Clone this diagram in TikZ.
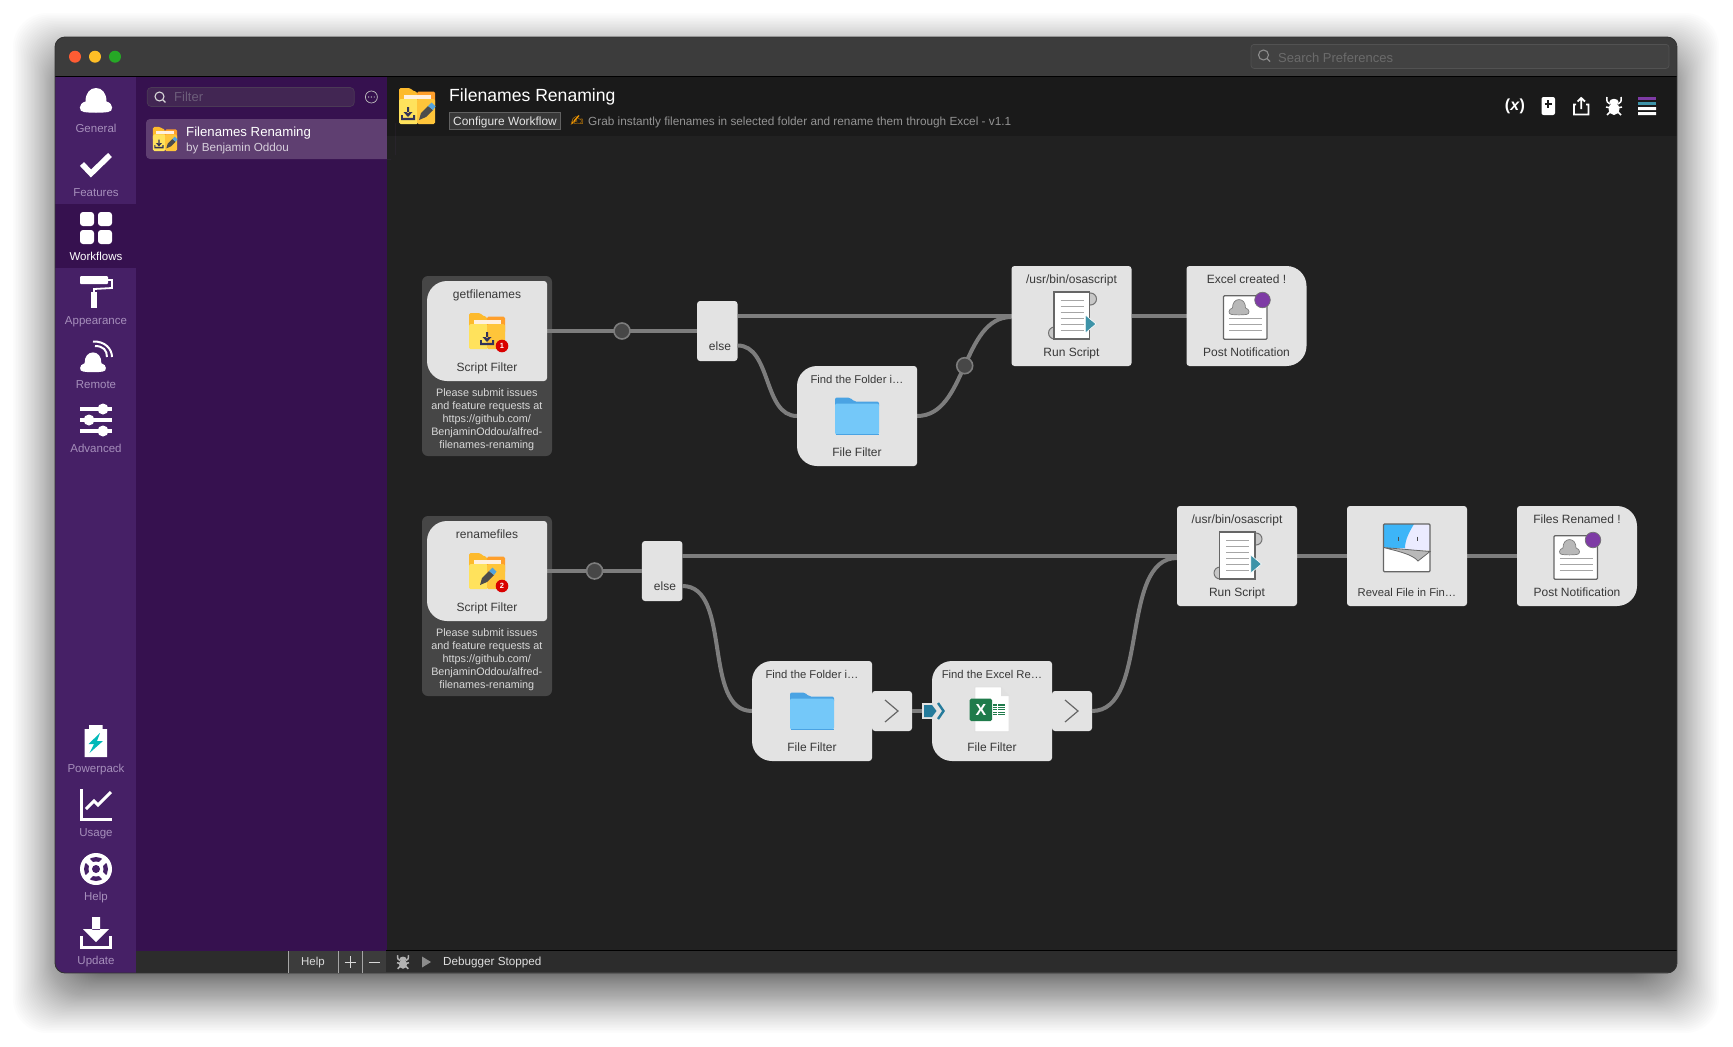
\documentclass[tikz,border=0pt]{standalone}
\usepackage{fontspec}
\setmainfont{Liberation Sans}
\newfontfamily\symbfont{DejaVu Sans}
\usetikzlibrary{positioning,calc}
\definecolor{canvasbg}{HTML}{212121}
\definecolor{titlebg}{HTML}{3C3C3C}
\definecolor{headbg}{HTML}{1A1A1A}
\definecolor{sidebg}{HTML}{462066}
\definecolor{listbg}{HTML}{36114F}
\definecolor{selbg}{HTML}{5F3F71}
\definecolor{sidetext}{HTML}{A68FBB}
\definecolor{cardgray}{HTML}{E3E3E3}
\definecolor{groupgray}{HTML}{464646}
\definecolor{wiregray}{HTML}{7D7D7D}
\definecolor{barbg}{HTML}{2C2C2C}
\definecolor{tealmark}{HTML}{3D93A8}
\definecolor{bluemark}{HTML}{257B9B}
\definecolor{purplemark}{HTML}{7E3BA5}
\definecolor{foldertab}{HTML}{FDBA2C}
\definecolor{folderback}{HTML}{FF9F2B}
\definecolor{folderleft}{HTML}{FFE25C}
\definecolor{folderright}{HTML}{FFC53A}
\definecolor{skyfront}{HTML}{74C8F9}
\definecolor{skyback}{HTML}{4AA3E3}
\definecolor{finderblue}{HTML}{3DB5F8}
\definecolor{excelgreen}{HTML}{1F7B4B}
\tikzset{
  px/.style={font=\fontsize{#1}{#1}\selectfont},
  card/.style={rectangle,minimum width=120pt,minimum height=100pt,inner sep=0pt,outer sep=0pt},
  cardtext/.style={px=12,text=black!78,inner sep=0pt,text height=8.6pt,text depth=2.6pt},
  groupbox/.style={rectangle,fill=groupgray,rounded corners=6pt,minimum width=130pt,minimum height=180pt,inner sep=0pt,outer sep=0pt},
  grouptext/.style={font=\fontsize{10.8}{13}\selectfont,text=black!15,align=center,inner sep=0pt},
  elsebox/.style={rectangle,fill=cardgray,rounded corners=3pt,minimum width=40.5pt,minimum height=60pt,inner sep=0pt,outer sep=0pt},
  chevbox/.style={rectangle,fill=cardgray,rounded corners=3pt,minimum width=40pt,minimum height=40pt,inner sep=0pt,outer sep=0pt},
  wire/.style={draw=wiregray,line width=4pt},
  junction/.style={circle,fill=black!72,draw=wiregray,line width=1.6pt,minimum size=16pt,inner sep=0pt},
  sidelabel/.style={px=11.5,text=sidetext,inner sep=0pt,text height=8.4pt,text depth=2.4pt},
  linetext/.style={inner sep=0pt,text height=8.6pt,text depth=2.6pt},
}
\newcommand{\cuttext}[1]{{\fontsize{11.3}{12}\selectfont #1}}
% card body: left radius, right radius
\newcommand{\cardback}[3]{
  \fill[cardgray,rounded corners=#2pt] ($(#1.north west)+(0pt,-40pt)$) -- (#1.north west) [rounded corners=#3pt] -- (#1.north east)
    -- (#1.south east) [rounded corners=#2pt] -- (#1.south west) -- cycle;
}
\newcommand{\cardlabels}[3]{
  \node (#1top) [cardtext] at ([yshift=-14.5pt]#1.north) {#2};
  \node (#1bottom) [cardtext] at ([yshift=12.5pt]#1.south) {#3};
}
\newcommand{\dlmark}[1]{
  \begin{scope}[shift={(#1,0)}]
    \fill[black!75!blue!60!gray] (-1,1) rectangle (1,7) (-4.5,6) -- (4.5,6) -- (0,11) -- cycle (-7,9) rectangle (-5.2,13) (-7,11.8) rectangle (7,14) (5.2,9) rectangle (7,13);
  \end{scope}
}
\newcommand{\penmark}[1]{
  \begin{scope}[shift={(#1,0)}]
    \fill[black!70] (-7,14) -- (-5,7) -- (2,0) -- (7,4) -- (0,11) -- cycle;
    \fill[cyan!70!blue!70] (2,0) -- (5.5,-3.5) -- (9.5,0.5) -- (7,4) -- cycle;
  \end{scope}
}
% folder with its marks
\newcommand{\foldericon}[3]{
  \begin{scope}[shift={#1},scale=#2]
    \fill[foldertab,rounded corners=1.5] (-18,2) -- (-18,-18) -- (-7,-18) -- (-3,-14.5) -- (0,-14.5) -- (0,2) -- cycle;
    \fill[folderback,rounded corners=1.5] (0,2) -- (0,-14.5) -- (18,-14.5) -- (18,2) -- cycle;
    \fill[orange!12] (-13.5,-11.5) rectangle (13.5,-7);
    \fill[folderleft,rounded corners=1.5] (-18,-7) -- (1,-7) -- (1,18) -- (-18,18) -- cycle;
    \fill[folderright,rounded corners=1.5] (0,-7) -- (18,-7) -- (18,18) -- (0,18) -- cycle;
    #3
  \end{scope}
}
\newcommand{\bluefolder}[1]{
  \begin{scope}[shift={#1}]
    \fill[skyback,rounded corners=2] (-22,-8) -- (-22,-18.5) -- (-7,-18.5) -- (-3,-14.5) -- (22,-14.5) -- (22,-8) -- cycle;
    \fill[skyfront,rounded corners=2] (-22,-12.5) rectangle (22,18.5);
    \draw[skyback,line width=.8pt] (-21.5,18.2) -- (21.5,18.2);
  \end{scope}
}
\newcommand{\scripticon}[1]{
  \begin{scope}[shift={#1}]
    \filldraw[fill=black!22,draw=black!55,line width=1pt] (19,-17) circle (6) (-17,17) circle (6);
    \filldraw[fill=white,draw=black!60,line width=1.2pt] (-17.5,-24) rectangle (18,23);
    \foreach \ly in {-15.3,-9.3,-3.3,2.7,8.7,14.7}
      \draw[black!35,line width=1.5pt] (-11,\ly) -- (12,\ly);
    \filldraw[fill=tealmark,draw=white,line width=.6pt] (13.9,-1) -- (24.5,8) -- (13.9,17) -- cycle;
  \end{scope}
}
\newcommand{\hatmark}{
  (-12,12) .. controls (-17.5,12) and (-18,3.5) .. (-10.5,1.5) .. controls (-10.5,-7) and (-6,-12) .. (0,-12)
    .. controls (6,-12) and (10.5,-7) .. (10.5,1.5) .. controls (18,3.5) and (17.5,12) .. (12,12) .. controls (6,13) and (-6,13) .. (-12,12) -- cycle
}
\newcommand{\notifyicon}[1]{
  \begin{scope}[shift={#1}]
    \filldraw[fill=white,draw=black!60,line width=1.2pt,rounded corners=1] (-23,-20.3) rectangle (20.5,23.3);
    \begin{scope}[shift={(-7.5,-9)},scale=.62]
      \filldraw[fill=black!28,draw=black!50,line width=.7pt] \hatmark;
    \end{scope}
    \foreach \ly in {2.7,8.7,14.7}
      \draw[black!35,line width=1.5pt] (-17.5,\ly) -- (15.5,\ly);
    \filldraw[fill=purplemark,draw=black!55,line width=.7pt] (16,-16) circle (7.8);
  \end{scope}
}
\newcommand{\lensmark}[3]{
  \draw[#2,line width=1.1pt] (#1) ++(-1.5,-1.5) circle (#3) ++(.7*#3,.7*#3) -- ++(.62*#3,.62*#3);
}
\newcommand{\bugmark}[3]{
  \begin{scope}[shift={#1},scale=#2]
    \fill[#3] (0,-4) ellipse (4.6 and 3.2) (0,3) ellipse (5.4 and 6);
    \draw[#3,line width=1.5pt] (-7,-9) .. controls (-8,-4) and (-6,-3) .. (-4,-2) (7,-9) .. controls (8,-4) and (6,-3) .. (4,-2)
      (-8,1) -- (-3,2) (8,1) -- (3,2) (-7,9) -- (-3,5) (7,9) -- (3,5);
  \end{scope}
}
\begin{document}
\begin{tikzpicture}[x=1pt,y=-1pt]
  \useasboundingbox (0,0) rectangle (1733,1047);
  \fill[white] (0,0) rectangle (1733,1047);
  % soft shadow under the window
  \foreach \i in {0,...,90}{
    \pgfmathsetmacro{\e}{-25+67*(\i/90)^2.2}
    \fill[black,opacity=.0125,rounded corners=34pt] ({55-1*\e},{55-1*\e}) rectangle ({1677+1*\e},{991+1*\e});
  }

  % window panels
  \begin{scope}
    \clip[rounded corners=10pt] (55,37) rectangle (1677,973);
    \fill[canvasbg] (55,37) rectangle (1677,973);
    \fill[titlebg] (55,37) rectangle (1677,76);
    \draw[black,line width=1pt] (55,76.5) -- (1677,76.5);
    \fill[headbg] (386.5,77) rectangle (1677,136);
    \fill[listbg] (136,77) rectangle (386.5,951);
    \fill[sidebg] (55,77) rectangle (136,973);
    \fill[listbg] (55,204) rectangle (136,268);
    \fill[barbg] (136,951) rectangle (1677,973);
    \draw[black,line width=1pt] (386,950.5) -- (1677,950.5);
    \fill[black!75] (386,972) rectangle (1677,973);
  \end{scope}
  \draw[black!80,line width=.8pt,rounded corners=10pt] (55,37) rectangle (1677,973);

  % title bar
  \fill[red!60!orange!80!white] (75,56.7) circle (6);
  \fill[orange!60!yellow!85!white] (95,56.7) circle (6);
  \fill[green!60!black!85!white] (115,56.7) circle (6);
  \node (searchbox) [rectangle,draw=black!68,fill=black!74,rounded corners=3pt,minimum width=418pt,minimum height=24pt,inner sep=0pt,line width=.7pt] at (1460,56.4) {};
  \lensmark{1265,56.5}{black!45}{5}
  \node (searchtext) [px=13,text=black!58,anchor=west,linetext] at (1278,59) {Search Preferences};

  % sidebar
  \begin{scope}[shift={(96,100)},scale=1]
    \fill[white] \hatmark;
  \end{scope}
  \draw[white,line width=5.6pt] (82,164) -- (91,173.5) -- (110,155);
  \foreach \ix/\iy in {80/212,98/212,80/230,98/230}
    \fill[white,rounded corners=3pt] (\ix,\iy) rectangle ++(14,14);
  \fill[white,rounded corners=1pt] (80,276) rectangle (108,284);
  \draw[white,line width=1.8pt] (108,280) -- (112,280) -- (112,288) -- (94,289) -- (94,293);
  \fill[white] (91,292) rectangle (97,308);
  \begin{scope}[shift={(93,362)},scale=.8]
    \fill[white] \hatmark;
  \end{scope}
  \draw[white,line width=2pt] (95,346) .. controls (103,346) and (107,350) .. (107,357) (93,341.5) .. controls (105,341) and (112,349) .. (112,357);
  \foreach \ay/\ax in {409/103,420/89,431/103}{
    \fill[white] (80,\ay-1.7) rectangle (112,\ay+1.7);
    \fill[white] (\ax,\ay) circle (5.5);
  }
  \fill[white] (89,725) rectangle (102.5,730) (84.6,729) rectangle (107,757);
  \fill[teal!55!cyan] (100,733) -- (88.5,744) -- (94,744) -- (89.5,753) -- (103,741) -- (97,741) -- cycle;
  \draw[white,line width=3pt] (81.5,789) -- (81.5,819.5) -- (112,819.5);
  \draw[white,line width=3pt] (86,809) -- (94,801) -- (98,805) -- (111,792);
  \fill[white] (96,869) circle (16);
  \fill[sidebg] (96,869) circle (12);
  \draw[white,line width=5.5pt] (86,859) -- (106,879) (86,879) -- (106,859);
  \fill[white] (96,869) circle (7.5);
  \fill[sidebg] (96,869) circle (4);
  \fill[white] (92,917) rectangle (100,930) (83,929) -- (109,929) -- (96,942) -- cycle;
  \draw[white,line width=3pt] (81.5,936) -- (81.5,947.5) -- (110.5,947.5) -- (110.5,936);
  \foreach \lname/\ltext/\ly in {general/General/129,features/Features/193,appearance/Appearance/321,remote/Remote/385,advanced/Advanced/449,powerpack/Powerpack/769,usage/Usage/833,helpside/Help/897,update/Update/961}
    \node (\lname) [sidelabel] at (96,\ly) {\ltext};
  \node (workflows) [sidelabel,text=white] at (96,257) {Workflows};

  % workflow list
  \node (filterbox) [rectangle,draw=black!45!listbg!80!white,fill=black!25!selbg!70!listbg,rounded corners=4pt,minimum width=207pt,minimum height=19pt,inner sep=0pt,line width=.7pt] at (250.7,97) {};
  \lensmark{161,98}{white!85!black}{4.5}
  \node (filtertext) [px=13,text=sidetext!65!black,anchor=west,linetext] at (174,98.5) {Filter};
  \node (filtermore) [circle,draw=white!75!black,minimum size=12pt,inner sep=0pt,line width=.7pt] at (371.4,97) {};
  \fill[white!75!black] (368.6,97) circle (.7) (371.4,97) circle (.7) (374.2,97) circle (.7);
  \fill[selbg,rounded corners=4pt] (146,119) rectangle (395,159);
  \fill[canvasbg] (386.5,136) rectangle (395,159);
  \fill[headbg] (386.5,119) rectangle (395,136);
  \foldericon{(165,139)}{.67}{\dlmark{-9}\penmark{9}}
  \node (listname) [px=13.2,text=white,anchor=west,linetext] at (186,133.5) {Filenames Renaming};
  \node (listauthor) [px=11.7,text=white!75!selbg,anchor=west,linetext] at (186,148.5) {by Benjamin Oddou};

  % header
  \foldericon{(417,106)}{1}{\dlmark{-9}\penmark{9}}
  \node (headtitle) [px=17.6,text=white,anchor=west,inner sep=0pt] at (449,96.5) {Filenames Renaming};
  \node (configbox) [rectangle,draw=black!62,fill=black!78,minimum width=111pt,minimum height=17.4pt,inner sep=0pt,line width=.7pt] at (505,121) {};
  \node (configtext) [px=11.9,text=white!90!black,linetext] at (505,122.5) {Configure Workflow};
  \node (headhand) [font=\symbfont\fontsize{16}{16}\selectfont,text=orange!75!yellow,inner sep=0pt] at (577,121) {✍};
  \node (headnote) [px=11.8,text=black!42,anchor=west,linetext] at (588,122.5) {Grab instantly filenames in selected folder and rename them through Excel - v1.1};
  \node (varsicon) [px=16,text=white,inner sep=0pt] at (1515,106) {\bfseries(\textit{x})};
  \fill[white,rounded corners=2pt] (1541.5,97) rectangle (1555,115);
  \draw[headbg,line width=1.6pt] (1544.5,104) -- (1552,104) (1548.2,100.2) -- (1548.2,107.8);
  \draw[white,line width=1.8pt] (1576,104.5) -- (1574,104.5) -- (1574,114.5) -- (1588.5,114.5) -- (1588.5,104.5) -- (1586,104.5) (1581.2,109) -- (1581.2,98.5) (1577.5,101.5) -- (1581.2,98) -- (1585,101.5);
  \bugmark{(1614,106)}{1}{white}
  \fill[purplemark] (1638,97) rectangle (1656,100);
  \fill[tealmark] (1638,102) rectangle (1656,105);
  \fill[white] (1638,107) rectangle (1656,110) (1638,112) rectangle (1656,115);

  % first row
  \node (getgroup) [groupbox] at (487,366) {};
  \node (getcard) [card] at (487,331) {};
  \node (else1) [elsebox] at (717.3,331) {};
  \node (find1) [card] at (857,416) {};
  \node (run1) [card] at (1071.5,316) {};
  \node (post1) [card,right=55pt of run1] {};
  \coordinate (else1top) at ([yshift=15pt]else1.east);
  \coordinate (else1low) at ([yshift=-14.5pt]else1.east);

  % second row
  \node (rengroup) [groupbox,below=60pt of getgroup] {};
  \node (rencard) [card,below=140pt of getcard] {};
  \node (else2) [elsebox] at (662.2,571) {};
  \node (run2) [card] at (1237,556) {};
  \node (reveal) [card,right=50pt of run2] {};
  \node (post2) [card,right=50pt of reveal] {};
  \node (findA) [card] at (812,711) {};
  \node (chevA) [chevbox,right=0pt of findA] {};
  \node (findB) [card,right=20pt of chevA] {};
  \node (chevB) [chevbox,right=0pt of findB] {};
  \coordinate (else2top) at ([yshift=15pt]else2.east);
  \coordinate (else2low) at ([yshift=-15pt]else2.east);
  \coordinate (run1in) at ([yshift=-1pt]run1.west);
  \coordinate (run2in) at ([yshift=-2pt]run2.west);

  % connectors
  \path[wire] (getcard.east) -- (else1.west);
  \path[wire] (else1top) -- (run1.west);
  \path[wire] (else1low) .. controls +(34,0) and +(-34,0) .. (find1.west);
  \path[wire] (find1.east) .. controls +(50,0) and +(-50,0) .. (run1in);
  \path[wire] (run1.east) -- (post1.west);
  \path[wire] (rencard.east) -- (else2.west);
  \path[wire] (else2top) -- (run2.west);
  \path[wire] (else2low) .. controls +(50,0) and +(-50,0) .. (findA.west);
  \path[wire] (chevA.east) -- (findB.west);
  \path[wire] (chevB.east) .. controls +(58,0) and +(-58,0) .. (run2in);
  \path[wire] (run2.east) -- (reveal.west);
  \path[wire] (reveal.east) -- (post2.west);
  \node (dot1) [junction] at (622,331) {};
  \node (dot2) [junction] at (964.7,365.7) {};
  \node (dot3) [junction] at (594.6,571) {};

  % card bodies
  \cardback{getcard}{20}{3}
  \cardback{find1}{20}{3}
  \cardback{run1}{3}{3}
  \cardback{post1}{3}{20}
  \cardback{rencard}{20}{3}
  \cardback{findA}{20}{3}
  \cardback{findB}{20}{3}
  \cardback{run2}{3}{3}
  \cardback{reveal}{3}{3}
  \cardback{post2}{3}{20}

  \cardlabels{getcard}{getfilenames}{Script Filter}
  \cardlabels{rencard}{renamefiles}{Script Filter}
  \cardlabels{find1}{\cuttext{Find the Folder i…}}{File Filter}
  \cardlabels{findA}{\cuttext{Find the Folder i…}}{File Filter}
  \cardlabels{findB}{\cuttext{Find the Excel Re…}}{File Filter}
  \cardlabels{run1}{/usr/bin/osascript}{Run Script}
  \cardlabels{run2}{/usr/bin/osascript}{Run Script}
  \cardlabels{post1}{Excel created !}{Post Notification}
  \cardlabels{post2}{Files Renamed !}{Post Notification}
  \node (revealbottom) [cardtext] at ([yshift=12.5pt]reveal.south) {\cuttext{Reveal File in Fin…}};
  \node (else1text) [cardtext] at (720,347) {else};
  \node (else2text) [cardtext] at (665,587) {else};
  \node (getnote) [grouptext] at (486.8,419.5) {Please submit issues\\and feature requests at\\https://github.com/\\BenjaminOddou/alfred-\\filenames-renaming};
  \node (rennote) [grouptext] at (486.8,659.5) {Please submit issues\\and feature requests at\\https://github.com/\\BenjaminOddou/alfred-\\filenames-renaming};

  % card icons
  \foldericon{(getcard.center)}{1}{\dlmark{0}}
  \fill[red!85!black] (502,346) circle (6.3);
  \node (badge1) [px=7.5,text=white,inner sep=0pt] at (502,346) {\bfseries 1};
  \foldericon{(rencard.center)}{1}{\penmark{0}}
  \fill[red!85!black] (502,586) circle (6.3);
  \node (badge2) [px=7.5,text=white,inner sep=0pt] at (502,586) {\bfseries 2};
  \bluefolder{(857,416)}
  \bluefolder{(812,711)}
  \scripticon{(run1.center)}
  \scripticon{(run2.center)}
  \notifyicon{(post1.center)}
  \notifyicon{(post2.center)}

  % finder page
  \begin{scope}[shift={(reveal.center)}]
    \fill[blue!8!white] (-23.5,-32) rectangle (23,-6);
    \fill[finderblue] (-23.5,-32) -- (7,-32) .. controls (3,-25) and (-2,-17) .. (-2,-8) -- (-23.5,-8) -- cycle;
    \draw[black!70,line width=1pt] (-9,-19.5) -- (-9,-15) (10,-19.5) -- (10,-15);
    \fill[white] (-23.5,-8.5) -- (23,-4.5) -- (23,15.7) -- (-23.5,15.7) -- cycle;
    \filldraw[fill=black!28,draw=black!60,line width=.8pt] (-23.5,-8.5) -- (23,-4.5) -- (11,5) .. controls (5,-2) and (-10,-5) .. (-23.5,-8.5);
    \draw[black!60,line width=1.2pt,rounded corners=1pt] (-23.5,-32) rectangle (23,15.7);
  \end{scope}

  % excel page
  \begin{scope}[shift={(findB.center)}]
    \filldraw[fill=white,draw=black!12,line width=.7pt] (-17,-24) -- (9,-24) -- (17,-15) -- (17,20.7) -- (-17,20.7) -- cycle;
    \fill[black!12] (9,-24) -- (9,-15) -- (17,-15) -- cycle;
    \foreach \ly in {-6,-3.6,-1.2,1.2,3.6}
      \draw[excelgreen,line width=1.2pt] (1,\ly) -- (13,\ly);
    \draw[white,line width=.8pt] (5.5,-7) -- (5.5,5);
    \fill[excelgreen,rounded corners=1.5pt] (-22.3,-12.3) rectangle (0,10);
  \end{scope}
  \node (excelx) [px=16,text=white,inner sep=0pt] at (981,710) {\bfseries X};

  % input marker
  \fill[cardgray] (922,703) rectangle (938,719);
  \fill[bluemark] (924,705) -- (932,705) -- (936.5,711) -- (932,717) -- (924,717) -- cycle;
  \draw[bluemark,line width=2.4pt] (938,703) -- (943.5,711) -- (938,719);

  % chevrons
  \draw[black!60,line width=1.2pt] (885,700) -- (898,711) -- (885,722);
  \draw[black!60,line width=1.2pt] (1065,700) -- (1078,711) -- (1065,722);

  % bottom bar
  \fill[titlebg] (288,951) rectangle (386,972.5);
  \draw[black!35,line width=.7pt] (288,951) -- (288,972.5) (338,951) -- (338,972.5) (362.5,951) -- (362.5,972.5);
  \node (helpbutton) [px=11.5,text=white!85!black,linetext] at (313,962.5) {Help};
  \draw[white!85!black,line width=1pt] (344.5,962) -- (356,962) (350.2,956.3) -- (350.2,967.7);
  \draw[white!85!black,line width=1pt] (369,962) -- (380,962);
  \bugmark{(403,962)}{.75}{black!30}
  \fill[black!45] (422,956.5) -- (431,962) -- (422,967.5) -- cycle;
  \node (debugtext) [px=11.7,text=white!88!black,anchor=west,linetext] at (443,962.5) {Debugger Stopped};
\end{tikzpicture}
\end{document}
